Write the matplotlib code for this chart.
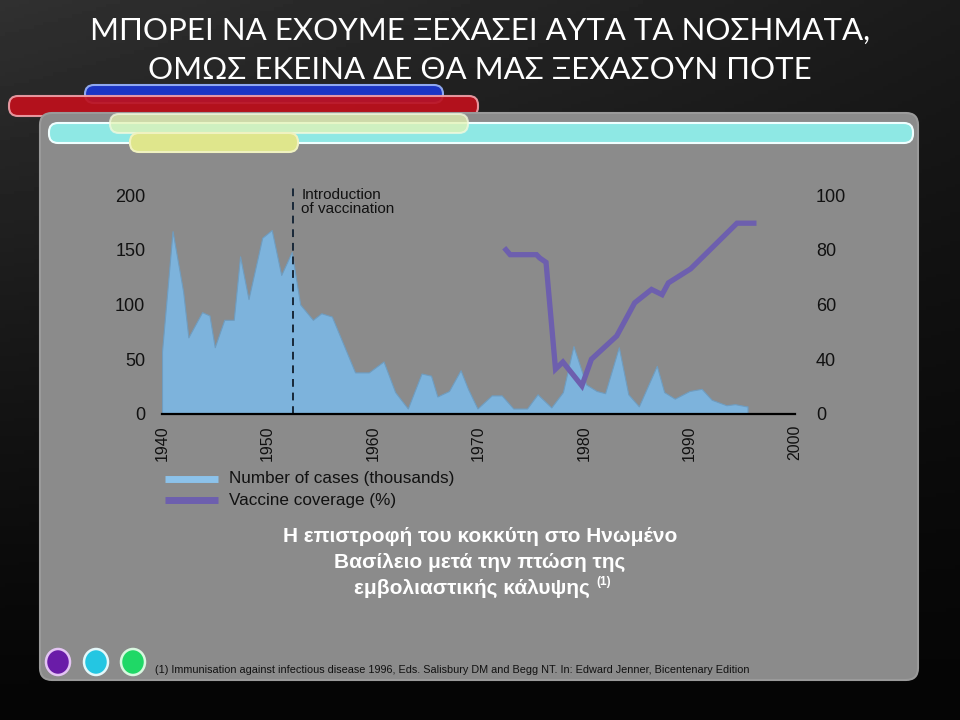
import numpy as np
import matplotlib.pyplot as plt
from matplotlib.patches import FancyBboxPatch, Ellipse

# cases (thousands)
case_years = [1940.0, 1941.0, 1942.0, 1942.5, 1943.8, 1944.5, 1945.0, 1945.9, 1946.8,
              1947.4, 1948.2, 1949.5, 1950.4, 1951.3, 1952.3, 1953.1, 1954.3, 1955.1,
              1956.1, 1958.3, 1959.6, 1961.0, 1962.1, 1963.3, 1964.6, 1965.5, 1966.1,
              1967.2, 1968.3, 1969.0, 1969.9, 1971.25, 1972.2, 1973.3, 1974.6, 1975.6,
              1976.9, 1978.0, 1979.0, 1980.2, 1981.2, 1982.0, 1983.3, 1984.2, 1985.2,
              1986.9, 1987.6, 1988.6, 1990.0, 1991.15, 1992.1, 1993.5, 1994.3, 1995.4,
              1995.5]
cases = [57, 167, 112, 70, 93, 90, 61, 86, 86,
         144, 105, 161, 168, 127, 148, 100, 86, 92,
         89, 38, 38, 48, 20, 5, 37, 35, 16,
         21, 40, 23, 5, 17, 17, 5, 5, 18,
         6, 20, 62, 27, 21, 19, 61, 18, 7,
         44, 20, 14, 21, 23, 13, 8, 9, 7,
         7]

# vaccine coverage (%)
cov_years = [1972.6, 1973.0, 1975.5, 1975.8, 1976.4, 1977.3, 1978.0, 1979.8, 1980.7,
             1983.1, 1984.8, 1986.4, 1987.4, 1988.0, 1990.1, 1994.5, 1996.1]
coverage = [80.0, 78.2, 78.2, 77.0, 75.4, 36.4, 39.0, 30.3, 40.0,
            48.5, 60.6, 65.5, 63.6, 67.9, 73.0, 89.7, 89.7]

vacc_year = 1952.4
x_ticks = [1940, 1950, 1960, 1970, 1980, 1990, 2000]
left_ticks = [0, 50, 100, 150, 200]
right_ticks = [20, 40, 60, 80, 100]
right_labels = ['0', '40', '60', '80', '100']  # broken axis in the original

title = ["ΜΠΟΡΕΙ ΝΑ ΕΧΟΥΜΕ ΞΕΧΑΣΕΙ ΑΥΤΑ ΤΑ ΝΟΣΗΜΑΤΑ,",
         "ΟΜΩΣ ΕΚΕΙΝΑ ΔΕ ΘΑ ΜΑΣ ΞΕΧΑΣΟΥΝ ΠΟΤΕ"]
caption = ["Η επιστροφή του κοκκύτη στο Ηνωμένο",
           "Βασίλειο μετά την πτώση της",
           "εμβολιαστικής κάλυψης"]
footnote = ("(1) Immunisation against infectious disease 1996, Eds. Salisbury DM and "
            "Begg NT. In: Edward Jenner, Bicentenary Edition")

plt.rcParams['font.family'] = ['Liberation Sans', 'DejaVu Sans']
narrow = ['Liberation Sans Narrow', 'Liberation Sans', 'DejaVu Sans']

fig = plt.figure(figsize=(9.6, 7.2), dpi=100)

# slide background in pixel coordinates
bg = fig.add_axes([0, 0, 1, 1])
bg.set_xlim(0, 960)
bg.set_ylim(720, 0)
bg.axis('off')
yy, xx = np.mgrid[0:1:200j, 0:1:200j]
shade = 0.17 * (1 - yy) ** 1.3 * (1 - 0.5 * xx) + 0.02
bg.imshow(shade, cmap='gray', vmin=0, vmax=1, extent=[0, 960, 720, 0], aspect='auto')

def bar(x, y, w, h, fc, ec, alpha=1.0, r=9):
    p = FancyBboxPatch((x, y), w, h, boxstyle=f'round,pad=0,rounding_size={r}',
                       fc=fc, ec=ec, lw=1.5, alpha=alpha)
    bg.add_patch(p)

bar(85, 85, 358, 18, '#1b35c4', '#8fa8f0')
bar(9, 96, 469, 20, '#c0101c', '#f0a0a8', alpha=0.92)
bar(40, 113, 878, 567, '#8b8b8b', '#9a9a9a', r=12)
bar(49, 123, 864, 20, '#8ee8e4', '#f0ffff')
bar(110, 114, 358, 19, '#e4f4b4', '#f4fae0', alpha=0.75)
bar(130, 133, 168, 19, '#dfe68c', '#f0f2c0')

for cx, col, edge in [(58, '#6a1ca8', '#e4c4f4'), (96, '#24c6e2', '#e4f8fa'),
                      (133, '#1fd866', '#d8f8e0')]:
    bg.add_patch(Ellipse((cx, 662), 24, 26, fc=col, ec=edge, lw=1.8))

for i, line in enumerate(title):
    bg.text(480, 31 + 39 * i, line, ha='center', va='center', color='white',
            fontsize=22.5, family=['Lato', 'DejaVu Sans'])

for i, line in enumerate(caption[:2]):
    bg.text(480, 537 + 25.5 * i, line, ha='center', va='center',
            color='white', fontsize=15, fontweight='bold')
bg.text(590, 588, caption[2], ha='right', va='center', color='white', fontsize=15,
        fontweight='bold')
bg.text(596, 582, '(1)', ha='left', va='center', color='white', fontsize=8.5,
        fontweight='bold')

bg.text(155, 670, footnote, ha='left', va='center', fontsize=7.8, family=narrow,
        color='#111111')

# legend
bg.plot([165, 218], [479, 479], color='#8cc2ea', lw=5, solid_capstyle='butt')
bg.plot([165, 218], [500, 500], color='#6d5fae', lw=5, solid_capstyle='butt')
bg.text(229, 479, 'Number of cases (thousands)', va='center', fontsize=12.3, color='#111111')
bg.text(229, 500, 'Vaccine coverage (%)', va='center', fontsize=12.3, color='#111111')

# chart
ax = fig.add_axes([162 / 960, 1 - 414 / 720, 633 / 960, 219 / 720])
ax.patch.set_alpha(0)
ax.fill_between(case_years, cases, 0, color='#7db3dc', edgecolor='#6f9cbf', lw=0.8)
ax.axvline(vacc_year, ymin=0, ymax=1.04, color='#182838', ls=(0, (4, 3)), lw=1.4,
           clip_on=False)
ax.text(vacc_year + 0.8, 206, 'Introduction\nof vaccination', va='top', ha='left',
        fontsize=11, color='#111111', linespacing=1.0)
ax.set_xlim(1940, 2000)
ax.set_ylim(0, 200)
ax.set_xticks(x_ticks)
ax.set_xticklabels([str(t) for t in x_ticks], rotation=90, family=narrow,
                   fontsize=11.5, color='#111111')
ax.set_yticks(left_ticks)
ax.tick_params(axis='y', labelsize=13, labelcolor='#111111', length=0, pad=12)
ax.tick_params(axis='x', length=0, pad=8)
for s in ['top', 'right', 'left']:
    ax.spines[s].set_visible(False)
ax.spines['bottom'].set_color('black')
ax.spines['bottom'].set_linewidth(1.6)

ax2 = ax.twinx()
ax2.plot(cov_years, coverage, color='#6d5fae', lw=3.8, solid_joinstyle='miter')
ax2.set_ylim(20, 100)
ax2.set_yticks(right_ticks)
ax2.set_yticklabels(right_labels)
ax2.tick_params(axis='y', labelsize=13, labelcolor='#111111', length=0, pad=15)
for s in ax2.spines.values():
    s.set_visible(False)

fig.savefig('out.png', dpi=100)
